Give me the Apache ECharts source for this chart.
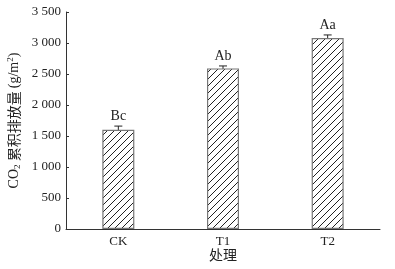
<!DOCTYPE html>
<html><head><meta charset="utf-8">
<script src="https://cdn.jsdelivr.net/npm/echarts@6/dist/echarts.min.js"></script>
<style>html,body{margin:0;padding:0;background:#fff}#c{width:395px;height:269px}</style>
</head><body><div id="c"></div>
<script>
var categories = ['CK', 'T1', 'T2'];
var values = [1600, 2590, 3080];
var errors = [60, 40, 50];
var letters = ['Bc', 'Ab', 'Aa'];
var yTicks = [0, 500, 1000, 1500, 2000, 2500, 3000, 3500];

function hatch() {
  var c = document.createElement('canvas');
  c.width = 7; c.height = 7;
  var g = c.getContext('2d');
  g.fillStyle = '#fff'; g.fillRect(0, 0, 7, 7);
  g.strokeStyle = '#222'; g.lineWidth = 1;
  g.beginPath();
  g.moveTo(-1, 8); g.lineTo(8, -1);
  g.moveTo(-1, 1); g.lineTo(1, -1);
  g.moveTo(6, 8); g.lineTo(8, 6);
  g.stroke();
  return c;
}
var fmt = function (v) { return String(v).replace(/\B(?=(\d{3})+(?!\d))/g, ' '); };
var serif = 'Liberation Serif, Times New Roman, serif';
var chart = echarts.init(document.getElementById('c'));
chart.setOption({
  animation: false,
  grid: { left: 66, right: 15, top: 12, bottom: 40, containLabel: false, outerBoundsMode: 'none' },
  xAxis: {
    type: 'category', data: categories,
    name: '处理', nameLocation: 'middle', nameGap: 19, nameMoveOverlap: false,
    nameTextStyle: { fontFamily: 'Noto Sans CJK SC', fontSize: 14, color: '#222' },
    axisLine: { lineStyle: { color: '#333', width: 1 } },
    axisTick: { inside: true, length: 2, lineStyle: { color: '#666' } },
    axisLabel: { fontFamily: serif, fontSize: 13, color: '#222', margin: 6 }
  },
  yAxis: {
    type: 'value', min: 0, max: 3500, interval: 500,
    name: '{a|CO}{s|2}{c| 累积排放量 }{a|(g/m}{p|2}{a|)}',
    nameLocation: 'middle', nameGap: 44, nameRotate: 90, nameMoveOverlap: false,
    nameTextStyle: { rich: {
      a: { fontFamily: serif, fontSize: 14, color: '#222' },
      s: { fontFamily: serif, fontSize: 9, color: '#222', verticalAlign: 'bottom', padding: [7, 0, 0, 0] },
      p: { fontFamily: serif, fontSize: 9, color: '#222', verticalAlign: 'top', padding: [0, 0, 7, 0] },
      c: { fontFamily: 'Noto Sans CJK SC', fontSize: 14, color: '#222' }
    } },
    axisLine: { show: true, lineStyle: { color: '#333', width: 1 } },
    axisTick: { show: true, inside: true, length: 3, lineStyle: { color: '#333' } },
    splitLine: { show: false },
    axisLabel: { fontFamily: serif, fontSize: 13, color: '#222', margin: 5,
      formatter: function (v) { return yTicks.indexOf(v) >= 0 ? fmt(v) : ''; } }
  },
  series: [{
    type: 'bar', data: values, barWidth: 32,
    itemStyle: { color: { image: hatch(), repeat: 'repeat' }, borderColor: '#777', borderWidth: 1.2 }
  }, {
    type: 'custom',
    data: values.map(function (v, i) { return [i, v, errors[i]]; }),
    renderItem: function (params, api) {
      var i = api.value(0), v = api.value(1), e = api.value(2);
      var top = api.coord([i, v + e]), bot = api.coord([i, v - e]);
      var x = top[0], w = 4;
      var st = { stroke: '#222', lineWidth: 1 };
      return { type: 'group', children: [
        { type: 'line', shape: { x1: x, y1: top[1], x2: x, y2: bot[1] }, style: st },
        { type: 'line', shape: { x1: x - w, y1: top[1], x2: x + w, y2: top[1] }, style: st },
        { type: 'line', shape: { x1: x - w, y1: bot[1], x2: x + w, y2: bot[1] }, style: st },
        { type: 'text', x: x, y: top[1] - 3, style: { text: letters[i], fontFamily: serif, fontSize: 14, fill: '#222', align: 'center', verticalAlign: 'bottom' } }
      ] };
    }
  }]
});
</script></body></html>
